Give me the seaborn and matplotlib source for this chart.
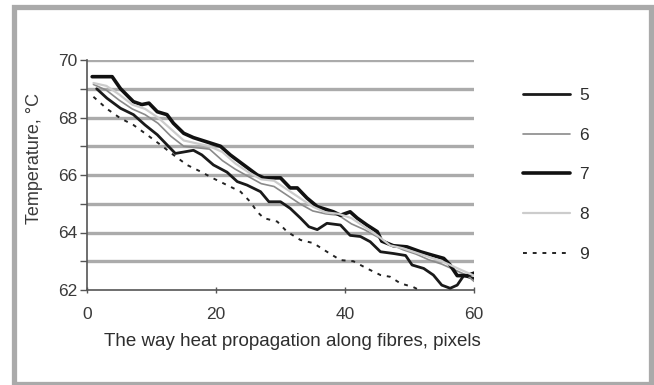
import matplotlib
matplotlib.use("Agg")
import matplotlib.pyplot as plt
import seaborn as sns
import pandas as pd
from matplotlib.patches import Rectangle

# ---- data ----
x7 = [0.8, 3.9, 5.2, 7.2, 8.5, 9.6, 10.9, 12.4, 13.4, 15.0, 16.5, 18.6, 20.7, 22.2, 24.3, 26.4,
      27.4, 30.0, 31.5, 32.6, 34.1, 35.7, 38.2, 39.3, 40.8, 41.9, 43.4, 45.0, 45.7, 47.5, 49.6,
      51.7, 53.7, 55.3, 56.3, 57.4, 58.9, 60.2]
y7 = [69.42, 69.42, 69.0, 68.55, 68.45, 68.5, 68.2, 68.1, 67.8, 67.45, 67.3, 67.15, 67.0, 66.7,
      66.35, 66.0, 65.9, 65.9, 65.55, 65.55, 65.2, 64.9, 64.72, 64.6, 64.72, 64.5, 64.26, 64.03,
      63.7, 63.54, 63.5, 63.33, 63.2, 63.1, 62.87, 62.5, 62.5, 62.6]

x5 = [1.5, 3.1, 5.2, 7.2, 9.0, 10.9, 12.4, 13.7, 15.0, 16.5, 17.8, 19.6, 21.7, 23.3, 24.8, 26.9,
      28.2, 30.0, 31.5, 33.1, 34.4, 35.7, 37.2, 39.3, 40.8, 42.4, 43.9, 45.5, 47.5, 49.4, 50.4,
      52.2, 53.7, 55.0, 56.3, 57.4, 58.4, 60.0]
y5 = [69.0, 68.67, 68.32, 68.1, 67.74, 67.4, 67.05, 66.75, 66.8, 66.86, 66.7, 66.35, 66.1, 65.77,
      65.65, 65.42, 65.07, 65.07, 64.84, 64.5, 64.2, 64.1, 64.32, 64.26, 63.9, 63.86, 63.68,
      63.33, 63.27, 63.2, 62.87, 62.75, 62.52, 62.17, 62.06, 62.17, 62.5, 62.4]

x9 = [1.0, 3.1, 5.2, 7.2, 9.3, 11.4, 13.4, 15.5, 17.6, 19.6, 21.7, 23.8, 25.3, 26.4, 27.4, 29.5,
      31.0, 33.1, 35.1, 37.2, 39.3, 41.3, 43.4, 45.5, 47.0, 48.6, 50.6, 51.5]
y9 = [68.72, 68.3, 67.97, 67.74, 67.4, 67.05, 66.7, 66.35, 66.12, 65.88, 65.65, 65.42, 65.07,
      64.72, 64.5, 64.38, 64.03, 63.74, 63.63, 63.33, 63.04, 63.0, 62.75, 62.52, 62.46, 62.23,
      62.1, 62.0]

x6 = [1, 3, 5, 7, 9, 11, 13, 15, 17, 19, 21, 23, 25, 27, 29, 31, 33, 35, 37, 39, 41, 43, 45, 47,
      49, 51, 53, 55, 57, 59, 60]
y6 = [69.15, 68.95, 68.6, 68.3, 68.1, 67.8, 67.35, 67.0, 66.95, 66.9, 66.5, 66.2, 65.95, 65.7,
      65.6, 65.3, 65.0, 64.75, 64.65, 64.6, 64.3, 64.1, 63.85, 63.6, 63.4, 63.25, 63.05, 62.9,
      62.7, 62.5, 62.3]

x8 = [1, 3, 5, 7, 9, 11, 13, 15, 17, 19, 21, 23, 25, 27, 29, 31, 33, 35, 37, 39, 41, 43, 45, 47,
      49, 51, 53, 55, 57, 59, 60]
y8 = [69.2, 69.1, 68.8, 68.45, 68.3, 68.0, 67.6, 67.2, 67.1, 67.0, 66.8, 66.4, 66.1, 65.85, 65.8,
      65.5, 65.2, 64.9, 64.7, 64.65, 64.5, 64.2, 63.9, 63.55, 63.45, 63.3, 63.15, 63.0, 62.8,
      62.6, 62.5]

series_names = ["5", "6", "7", "8", "9"]
x_ticks = [0, 20, 40, 60]
y_ticks = [62, 64, 66, 68, 70]

# ---- figure ----
sns.set_theme(style="white")
plt.rcParams["font.family"] = ["Liberation Sans", "DejaVu Sans"]

W, H = 654, 385
fig = plt.figure(figsize=(W / 100, H / 100), dpi=100)
ax = fig.add_axes([87 / W, 1 - 290 / H, (474 - 87) / W, (290 - 60) / H])

data = {"5": (x5, y5), "6": (x6, y6), "7": (x7, y7), "8": (x8, y8), "9": (x9, y9)}
styles = {
    "5": dict(color="#1a1a1a", lw=2.0, ls="-"),
    "6": dict(color="#8a8a8a", lw=1.2, ls="-"),
    "7": dict(color="#111111", lw=2.6, ls="-"),
    "8": dict(color="#cccccc", lw=1.6, ls="-"),
    "9": dict(color="#222222", lw=1.4, ls=(0, (2, 3))),
}
for name in series_names:
    xs, ys = data[name]
    df = pd.DataFrame({"x": xs, "y": ys})
    st = styles[name]
    sns.lineplot(data=df, x="x", y="y", ax=ax, color=st["color"], linewidth=st["lw"],
                 linestyle=st["ls"], label=name, legend=False, zorder=3)

ax.set_xlim(0, 60)
ax.set_ylim(62, 70)
ax.set_xticks(x_ticks)
ax.set_yticks(y_ticks)
ax.set_yticks(list(range(62, 71)), minor=True)
ax.grid(False)
for v in range(63, 71):
    ax.axhline(v, color="#ababab", lw=2.4, zorder=1)

for s in ["top", "right"]:
    ax.spines[s].set_visible(False)
for s in ["left", "bottom"]:
    ax.spines[s].set_color("#555555")
    ax.spines[s].set_linewidth(1.2)

ax.tick_params(axis="y", which="both", direction="out", length=5, width=1.0, color="#555555",
               labelsize=12.5, labelcolor="#3a3a3a", pad=2, left=True)
ax.tick_params(axis="x", which="major", direction="inout", length=4, width=1.0, color="#555555",
               labelsize=12.5, labelcolor="#3a3a3a", pad=10, bottom=True)

ax.set_xlabel("The way heat propagation along fibres, pixels", fontsize=13.5, color="#2e2e2e")
ax.set_ylabel("Temperature, °C", fontsize=13, color="#3a3a3a")
ax.xaxis.set_label_coords((292 - 87) / 387, (290 - 333) / 230)
ax.yaxis.set_label_coords((43 - 87) / 387, (290 - 159) / 230)

handles, labels = ax.get_legend_handles_labels()
leg = fig.legend(handles, labels, loc="upper left",
                 bbox_to_anchor=(507 / W, 1 - 72 / H), frameon=False,
                 fontsize=12.5, handlelength=2.75, handletextpad=0.5, labelspacing=1.42,
                 labelcolor="#2e2e2e")

# gray outer frame
fig.patches.append(Rectangle((13.5 / W, 1 - 384 / H), (651 - 13.5) / W, (384 - 6.5) / H,
                             transform=fig.transFigure, fill=False, edgecolor="#aaaaaa",
                             linewidth=3.8, zorder=10))

fig.savefig("out.png", dpi=100)
